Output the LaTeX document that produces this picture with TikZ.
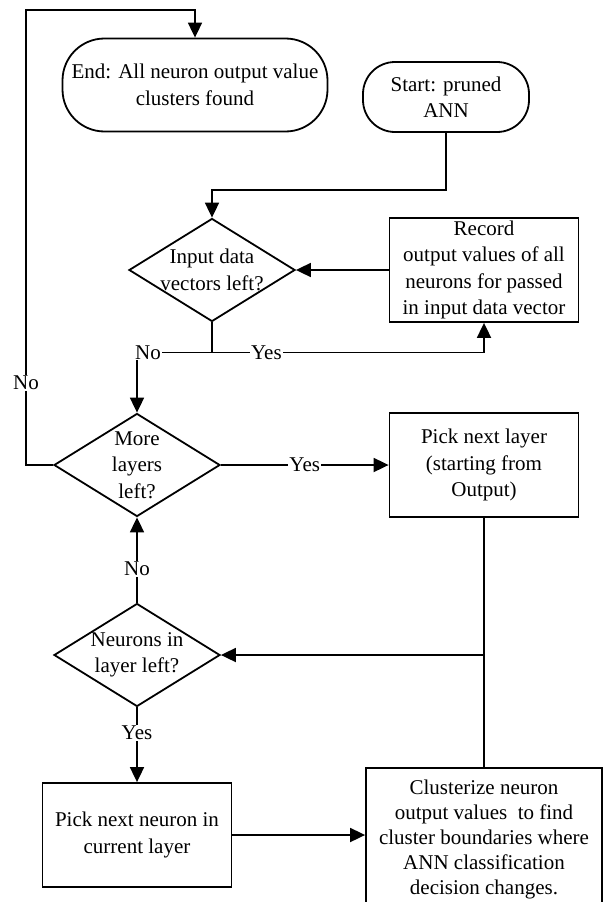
\documentclass[tikz,border=0pt]{standalone}
\usepackage{fontspec}
\setmainfont{Liberation Serif}
\usetikzlibrary{shapes.geometric,arrows.meta,positioning}

\begin{document}
\begin{tikzpicture}[x=1pt,y=-1pt,node distance=100pt,on grid,line width=1.8pt,
    every node/.style={font=\fontsize{21}{26.5}\selectfont},
    term/.style={draw,align=center,rounded corners=32pt,minimum width=166pt,minimum height=70pt},
    block/.style={draw,align=center,inner sep=2pt,minimum width=189pt,minimum height=104pt},
    decision/.style={draw,diamond,inner sep=0pt,minimum width=166pt,minimum height=103pt},
    flow/.style={-{Triangle[length=15pt,width=14pt]}},
    lab/.style={fill=white,inner sep=1pt}]
   \useasboundingbox (0,0) rectangle (603,902);
   \node[term] (start) at (446,97) {Start: pruned\\ANN};
   \node[term,minimum width=265pt,minimum height=93pt,rounded corners=42pt] (end) at (195,85)
        {End: All neuron output value\\clusters found};
   \node[decision,label={[align=center]center:{Input data\\vectors left?}}] (input) at (212,270) {};
   \node[block] (record) [right=272pt of input] {Record\\output values of all\\neurons for passed\\in input data vector};
   \node[decision,label={[align=center]center:{More\\layers\\left?}}] (layers) at (137,465) {};
   \node[block] (picklayer) [right=347pt of layers] {Pick next layer\\(starting from\\Output)};
   \node[decision,label={[align=center]center:{Neurons in\\layer left?}}] (neurons) [below=190pt of layers] {};
   \node[block] (pickneuron) [below=180pt of neurons] {Pick next neuron in\\current layer};
   \node[block,minimum width=236pt,minimum height=142pt,font=\fontsize{21}{25}\selectfont] (cluster) at (484,839)
        {Clusterize neuron\\output values\ \ to find\\cluster boundaries where\\ANN classification\\decision changes.};
   \coordinate (corner) at (26,10);
   % input data loop
   \draw[flow] (start.south) -- ++(0,57) -| (input.north);
   \draw[flow] (record.west) -- (input.east);
   \draw (input.south) -- ++(0,30) coordinate (split);
   \draw[flow] (split) -| node[lab,pos=0.1] {Yes} (record.south);
   \draw[flow] (split) -| node[lab,pos=0.5,xshift=11pt] {No} (layers.north);
   % layers loop
   \draw[flow] (layers.east) -- node[lab] {Yes} (picklayer.west);
   \draw[flow] (layers.west) -| node[lab,pos=0.59] {No} (corner) -| (end.north);
   \draw (picklayer.south) -- (cluster.north);
   \draw[flow] (picklayer.south |- neurons.east) -- (neurons.east);
   % neurons loop
   \draw[flow] (neurons.north) -- node[lab,pos=0.4] {No} (layers.south);
   \draw[flow] (neurons.south) -- node[lab,pos=0.34] {Yes} (pickneuron.north);
   \draw[flow] (pickneuron.east) -- (pickneuron.east -| cluster.west);
\end{tikzpicture}
\end{document}
